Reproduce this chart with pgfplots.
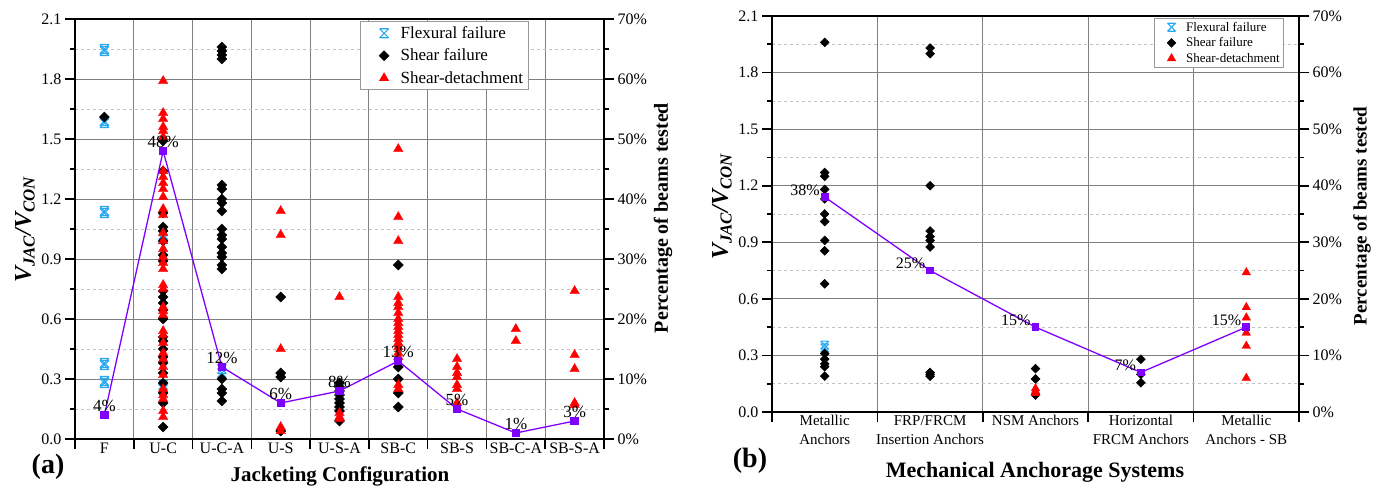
\documentclass[border=0pt]{standalone}
\usepackage{fontspec}
\setmainfont{Liberation Serif}
\usepackage{pgfplots}
\pgfplotsset{compat=1.18}

\definecolor{flexblue}{RGB}{40,168,240}
\definecolor{pctviolet}{RGB}{128,0,255}
\definecolor{gridmaj}{RGB}{128,128,128}
\definecolor{gridmin}{RGB}{195,195,195}
\newcommand{\fs}[1]{\fontsize{#1}{#1}\selectfont}
% position of the legend symbol and width of the legend image
\def\lgmark{20pt}
\def\lgend{34pt}

% X with top and bottom bars (flexural failure)
\pgfdeclareplotmark{xbar}{%
  \pgfpathmoveto{\pgfqpoint{-\pgfplotmarksize}{\pgfplotmarksize}}%
  \pgfpathlineto{\pgfqpoint{\pgfplotmarksize}{-\pgfplotmarksize}}%
  \pgfpathmoveto{\pgfqpoint{-\pgfplotmarksize}{-\pgfplotmarksize}}%
  \pgfpathlineto{\pgfqpoint{\pgfplotmarksize}{\pgfplotmarksize}}%
  \pgfpathmoveto{\pgfqpoint{-\pgfplotmarksize}{\pgfplotmarksize}}%
  \pgfpathlineto{\pgfqpoint{\pgfplotmarksize}{\pgfplotmarksize}}%
  \pgfpathmoveto{\pgfqpoint{-\pgfplotmarksize}{-\pgfplotmarksize}}%
  \pgfpathlineto{\pgfqpoint{\pgfplotmarksize}{-\pgfplotmarksize}}%
  \pgfusepathqstroke}
% filled rhombus (shear failure)
\pgfdeclareplotmark{rhomb}{%
  \pgfpathmoveto{\pgfqpoint{0pt}{\pgfplotmarksize}}%
  \pgfpathlineto{\pgfqpoint{\pgfplotmarksize}{0pt}}%
  \pgfpathlineto{\pgfqpoint{0pt}{-\pgfplotmarksize}}%
  \pgfpathlineto{\pgfqpoint{-\pgfplotmarksize}{0pt}}%
  \pgfpathclose\pgfusepathqfillstroke}

\pgfplotsset{
  frame/.style={
    scale only axis, clip mode=individual,
    tick align=outside, major tick length=10pt, minor tick length=5pt,
    tick style={black, line width=1.6pt},
    axis line style={line width=2pt},
    tick label style={font=\fs{16}},
    /pgf/number format/assume math mode=true,
  },
  vaxis/.style={
    frame,
    ymin=0, ymax=2.1,
    ytick={0,0.3,0.6,0.9,1.2,1.5,1.8,2.1}, minor y tick num=1,
    ytick pos=left, xtick pos=left,
    yticklabel style={/pgf/number format/.cd, fixed, fixed zerofill, precision=1},
    xticklabels={},
    extra x tick style={grid=none, major tick length=0pt},
    xmajorgrids, ymajorgrids, yminorgrids,
    major grid style={gridmaj, line width=0.9pt},
    minor grid style={gridmin, dashed, line width=0.7pt},
    legend cell align=left,
  },
  paxis/.style={
    frame,
    ymin=0, ymax=70,
    axis x line=none, axis y line*=right,
    ytick={0,10,...,70}, minor y tick num=1,
    yticklabel={\pgfmathprintnumber{\tick}\%},
  },
  markleg/.style={only marks,
    legend image code/.code={\path (0pt,0pt) (\lgend,0pt);
      \draw[mark repeat=2,mark phase=2,##1]
      plot coordinates {(0pt,0pt)(\lgmark,0pt)(\lgend,0pt)};}},
  flex/.style={markleg, mark=xbar, mark size=4.5pt, flexblue, line width=1.1pt},
  shear/.style={markleg, mark=rhomb, mark size=5pt, black, mark options={line width=0.4pt}},
  detach/.style={markleg, mark=triangle*, mark size=5.5pt, red, mark options={line width=0.3pt}},
  pct/.style={pctviolet, line width=1.3pt, mark=square*, mark size=3.5pt,
    nodes near coords={\pgfmathprintnumber{\pgfplotspointmeta}\%}},
}

\begin{document}
\begin{tikzpicture}
\useasboundingbox (0,0) rectangle (1386pt,492pt);

% ---------------- (a) Jacketing configuration ----------------
\begin{axis}[vaxis, at={(75pt,53pt)}, anchor=south west, width=529pt, height=420pt,
  xmin=0.5, xmax=9.5, xtick={0.5,1.5,...,9.5},
  extra x ticks={1,2,3,4,5,6,7,8,9},
  extra x tick labels={F,U-C,U-C-A,U-S,U-S-A,SB-C,SB-S,SB-C-A,SB-S-A},
  legend style={at={(0.539,0.995)}, anchor=north west, draw=gray!80, line width=0.8pt,
    font=\fs{17}, row sep=5pt, inner sep=3pt},
]
\addplot[flex] coordinates {(1,1.95)(1,1.94)(1,1.59)(1,1.58)(1,1.14)(1,1.13)(1,0.38)(1,0.37)(1,0.29)(1,0.28)
  (2,1.02)(2,1.00)(2,0.27)(2,0.25)(3,0.35)(3,0.33)};
\addlegendentry{Flexural failure}
\addplot[shear] coordinates {(1,1.61)
  (2,1.49)(2,1.34)(2,1.13)(2,1.06)(2,1.04)(2,0.99)(2,0.92)(2,0.89)(2,0.74)(2,0.71)(2,0.68)(2,0.645)
  (2,0.60)(2,0.51)(2,0.49)(2,0.45)(2,0.41)(2,0.38)(2,0.33)(2,0.28)(2,0.23)(2,0.18)(2,0.06)
  (3,1.96)(3,1.94)(3,1.92)(3,1.90)(3,1.27)(3,1.25)(3,1.20)(3,1.18)(3,1.14)(3,1.05)(3,1.02)(3,1.00)
  (3,0.96)(3,0.93)(3,0.91)(3,0.87)(3,0.85)(3,0.30)(3,0.25)(3,0.23)(3,0.19)
  (4,0.71)(4,0.33)(4,0.31)(4,0.04)
  (5,0.28)(5,0.26)(5,0.24)(5,0.22)(5,0.20)(5,0.18)(5,0.16)(5,0.14)(5,0.09)
  (6,0.87)(6,0.36)(6,0.30)(6,0.23)(6,0.16)};
\addlegendentry{Shear failure}
\addplot[detach] coordinates {
  (2,1.79)(2,1.63)(2,1.60)(2,1.56)(2,1.54)(2,1.51)(2,1.34)(2,1.31)(2,1.28)(2,1.25)(2,1.21)(2,1.15)
  (2,1.12)(2,1.03)(2,0.99)(2,0.95)(2,0.91)(2,0.88)(2,0.85)(2,0.77)(2,0.75)(2,0.66)(2,0.64)(2,0.62)
  (2,0.54)(2,0.52)(2,0.48)(2,0.43)(2,0.40)(2,0.36)(2,0.32)(2,0.25)(2,0.22)(2,0.20)(2,0.14)(2,0.11)
  (4,1.14)(4,1.02)(4,0.45)(4,0.06)(4,0.04)
  (5,0.71)(5,0.13)(5,0.11)(5,0.10)
  (6,1.45)(6,1.11)(6,0.99)(6,0.71)(6,0.68)(6,0.66)(6,0.63)(6,0.60)(6,0.58)(6,0.56)(6,0.54)(6,0.52)
  (6,0.50)(6,0.48)(6,0.46)(6,0.43)(6,0.41)(6,0.27)(6,0.25)
  (7,0.40)(7,0.36)(7,0.33)(7,0.31)(7,0.27)(7,0.25)(7,0.18)
  (8,0.55)(8,0.49)
  (9,0.74)(9,0.42)(9,0.35)(9,0.18)(9,0.17)};
\addlegendentry{Shear-detachment}
\end{axis}
\begin{axis}[paxis, at={(75pt,53pt)}, anchor=south west, width=529pt, height=420pt,
  xmin=0.5, xmax=9.5]
\addplot[pct, nodes near coords style={font=\fs{17}, text=black, anchor=south, yshift=-1pt}]
  coordinates {(1,4)(2,48)(3,12)(4,6)(5,8)(6,13)(7,5)(8,1)(9,3)};
\end{axis}
\node[rotate=90, font=\bfseries\itshape\fs{24}] at (25pt,262pt) {V\textsubscript{JAC}/V\textsubscript{CON}};
\node[rotate=90, font=\bfseries\fs{20}] at (663pt,274pt) {Percentage of beams tested};
\node[font=\bfseries\fs{21}] at (340pt,16pt) {Jacketing Configuration};
\node[font=\bfseries\fs{28}] at (48pt,25pt) {(a)};

% ---------------- (b) Mechanical anchorage systems ----------------
\def\lgmark{15pt}
\def\lgend{27pt}
\begin{axis}[vaxis, at={(772pt,80pt)}, anchor=south west, width=527pt, height=396pt,
  xmin=0.5, xmax=5.5, xtick={0.5,1.5,...,5.5},
  extra x ticks={1,2,3,4,5},
  extra x tick labels={{Metallic\\Anchors},{FRP/FRCM\\Insertion Anchors},{NSM Anchors},
    {Horizontal\\FRCM Anchors},{Metallic\\Anchors - SB}},
  extra x tick style={grid=none, major tick length=0pt,
    tick label style={font=\fontsize{15}{19}\selectfont, align=center, anchor=north}},
  legend style={at={(0.725,0.995)}, anchor=north west, draw=gray!80, line width=0.8pt,
    font=\fs{13}, row sep=1pt, inner sep=1.5pt},
  shear/.append style={mark size=4.5pt},
  detach/.append style={mark size=5pt},
]
\addplot[flex, mark size=4pt] coordinates {(1,0.355)(1,0.34)};
\addlegendentry{Flexural failure}
\addplot[shear] coordinates {(1,1.96)(1,1.27)(1,1.25)(1,1.18)(1,1.13)(1,1.05)(1,1.01)(1,0.91)(1,0.855)
  (1,0.68)(1,0.31)(1,0.28)(1,0.255)(1,0.24)(1,0.19)
  (2,1.93)(2,1.90)(2,1.20)(2,0.96)(2,0.93)(2,0.91)(2,0.875)(2,0.21)(2,0.20)(2,0.19)
  (3,0.23)(3,0.175)(3,0.09)
  (4,0.28)(4,0.20)(4,0.155)};
\addlegendentry{Shear failure}
\addplot[detach] coordinates {(3,0.125)(3,0.11)(3,0.10)
  (5,0.74)(5,0.555)(5,0.50)(5,0.42)(5,0.35)(5,0.18)};
\addlegendentry{Shear-detachment}
\end{axis}
\begin{axis}[paxis, at={(772pt,80pt)}, anchor=south west, width=527pt, height=396pt,
  xmin=0.5, xmax=5.5]
\addplot[pct, mark size=3.2pt, nodes near coords style={font=\fs{16}, text=black, anchor=east, xshift=-1pt, yshift=7pt}]
  coordinates {(1,38)(2,25)(3,15)(4,7)(5,15)};
\end{axis}
\node[rotate=90, font=\bfseries\itshape\fs{24}] at (722pt,285pt) {V\textsubscript{JAC}/V\textsubscript{CON}};
\node[rotate=90, font=\bfseries\fs{19}] at (1362pt,276pt) {Percentage of beams tested};
\node[font=\bfseries\fs{22}] at (1035pt,20pt) {Mechanical Anchorage Systems};
\node[font=\bfseries\fs{28}] at (750pt,31pt) {(b)};
\end{tikzpicture}
\end{document}
